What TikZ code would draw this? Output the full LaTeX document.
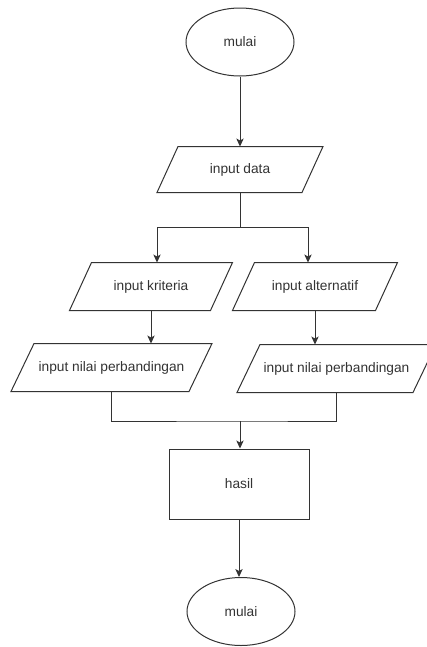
\documentclass[tikz,border=0pt]{standalone}
\usepackage{fontspec}
\setmainfont{Liberation Sans}
\usetikzlibrary{arrows.meta,shapes.geometric,calc}
\begin{document}
\begin{tikzpicture}[x=0.75pt,y=-0.75pt,
  line width=0.75pt,
  every node/.style={font=\fontsize{10.3}{12}\selectfont, text=black!80},
  lin/.style={draw=black!80},
  arr/.style={lin,-{Stealth[length=6pt,width=5.5pt,inset=1.5pt]}},
  term/.style={ellipse,draw=black!80,minimum width=81pt,minimum height=51pt,inner sep=0pt},
  io/.style={rectangle,inner sep=0pt},
  proc/.style={rectangle,draw=black!80,minimum width=105pt,minimum height=52.5pt,inner sep=0pt}
]
\useasboundingbox (0,0) rectangle (426,647);
% terminal start
\node[term] (e1) at (240,42) {mulai};
% io nodes (invisible frames, parallelograms drawn below)
\node[io,minimum width=108pt,minimum height=33.75pt] (d) at (240,169.5) {input data};
\node[io,minimum width=105pt,minimum height=35.25pt] (k) at (151,286.5) {input kriteria};
\node[io,minimum width=106.5pt,minimum height=35.25pt] (a) at (315,286.5) {input alternatif};
\node[io,minimum width=132.75pt,minimum height=35.25pt] (ln) at (111.5,367.5) {input nilai perbandingan};
\node[io,minimum width=131.25pt,minimum height=35.25pt] (rn) at (336.5,368.5) {input nilai perbandingan};
% parallelogram outlines
\foreach \n/\s in {d/10.5,k/11,a/11,ln/11.5,rn/11.5}{
  \draw[lin] ($(\n.north west)+(\s,0)$) -- ($(\n.north east)+(\s,0)$)
    -- ($(\n.south east)-(\s,0)$) -- ($(\n.south west)-(\s,0)$) -- cycle;
}
\node[proc] (h) at (239,484) {hasil};
\node[term] (e2) at (241,611.5) {mulai};
% connectors
\coordinate (sp) at (240,227);
\coordinate (mg) at (240,421);
\draw[arr] (e1.south) -- (d.north);
\draw[lin] (d.south) -- (sp);
\draw[arr] (sp) -| ($(k.north)+(6,0)$);
\draw[arr] (sp) -| ($(a.north)+(-7,0)$);
\draw[arr] (k.south) -- (k.south |- ln.north);
\draw[arr] (a.south) -- (a.south |- rn.north);
\draw[lin] (ln.south) |- (mg) -| (rn.south);
\draw[arr] (mg) -- (mg |- h.north);
\draw[arr] (h.south) -- (h.south |- e2.north);
\end{tikzpicture}
\end{document}
